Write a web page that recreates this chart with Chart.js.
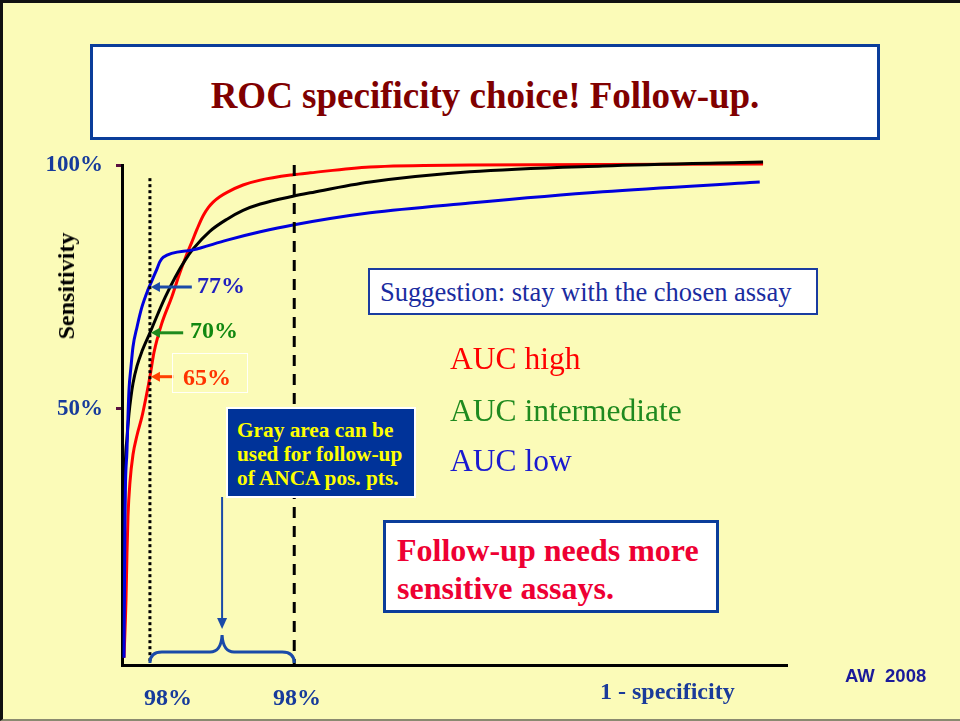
<!DOCTYPE html>
<html>
<head>
<meta charset="utf-8">
<script src="https://cdn.jsdelivr.net/npm/chart.js@4/dist/chart.umd.min.js"></script>
<style>
  body { margin: 0; }
  #slide {
    position: relative; width: 960px; height: 721px; overflow: hidden;
    background: #fbfbb8; box-sizing: border-box;
    border-top: 3px solid #111; border-left: 3px solid #111; border-bottom: 2px solid #8a8a70;
    font-family: "Liberation Serif", "Times New Roman", serif;
  }
  #chart { position: absolute; left: -3px; top: -3px; }
  .box { position: absolute; box-sizing: border-box; }
  .txt { position: absolute; white-space: nowrap; line-height: 1; }
</style>
</head>
<body>
<div id="slide">
  <canvas id="chart" width="960" height="721"></canvas>

  <div class="box" style="left:87px;top:41px;width:790px;height:96px;background:#fff;border:3px solid #0b3d9a;"></div>
  <div class="txt" style="left:87px;width:790px;top:74px;text-align:center;font-size:37px;font-weight:bold;color:#800000;">ROC specificity choice! Follow-up.</div>

  <div class="txt" style="left:63px;top:283px;font-size:24px;font-weight:bold;color:#000;transform:translate(-50%,-50%) rotate(-90deg);">Sensitivity</div>

  <div class="box" style="left:365px;top:265px;width:450px;height:47px;background:#fff;border:2px solid #1a3ca0;"></div>
  <div class="txt" style="left:377px;top:276px;font-size:26.5px;color:#1a2ca0;">Suggestion: stay with the chosen assay</div>

  <div class="txt" style="left:447px;top:340px;font-size:31.5px;color:#ff0000;">AUC high</div>
  <div class="txt" style="left:447px;top:392px;font-size:31.5px;color:#1f8a1f;">AUC intermediate</div>
  <div class="txt" style="left:447px;top:442px;font-size:31.5px;color:#1a1ad0;">AUC low</div>

  <div class="box" style="left:223px;top:404px;width:190px;height:91px;background:#003399;border:2px solid #fff;"></div>
  <div class="txt" style="left:234px;top:415px;font-size:21.3px;font-weight:bold;color:#ffff00;line-height:24px;">Gray area can be<br>used for follow-up<br>of ANCA pos. pts.</div>

  <div class="box" style="left:380px;top:517px;width:336px;height:93px;background:#fff;border:3px solid #0b3d9a;"></div>
  <div class="txt" style="left:394px;top:528px;font-size:32px;font-weight:bold;color:#ee0033;line-height:38px;">Follow-up needs more<br>sensitive assays.</div>

  <div class="box" style="left:169px;top:350px;width:76px;height:40px;border:1px solid rgba(255,255,255,0.9);"></div>
  <div class="txt" style="left:194px;top:270px;font-size:24px;font-weight:bold;color:#1f1fbf;">77%</div>
  <div class="txt" style="left:187px;top:315px;font-size:24px;font-weight:bold;color:#118811;">70%</div>
  <div class="txt" style="left:180px;top:362px;font-size:24px;font-weight:bold;color:#ff3300;">65%</div>

  <div class="txt" style="left:597px;top:676px;font-size:24px;font-weight:bold;color:#1a3b9a;">1 - specificity</div>
  <div class="txt" style="left:842px;top:664px;font-family:'Liberation Sans',Arial,sans-serif;font-size:18.5px;font-weight:bold;color:#1a1a9a;">AW&nbsp;&nbsp;2008</div>
</div>

<script>
// ROC curves, x = 1 - specificity (arbitrary 0..100 scale), y = sensitivity %
const redX   = [0.3, 0.6, 0.75, 0.9, 1.2, 1.65, 2.26, 3.0, 3.6, 4.2, 4.8, 6.0, 7.5, 8.7, 9.6, 10.5, 11.3, 12.2, 13.0, 13.7, 14.7, 15.8, 18.2, 20.8, 25.7, 28.3, 37.3, 52.3, 96.4];
const redY   = [-1.0, 10.9, 20.5, 28.0, 35.0, 40.6, 44.6, 48.4, 52.3, 56.6, 61.5, 67.6, 73.0, 77.9, 81.2, 84.2, 86.9, 89.6, 91.3, 92.4, 93.5, 94.4, 95.9, 96.9, 98.0, 98.4, 99.6, 100, 100.2];
const blackX = [0.15, 0.3, 0.45, 0.75, 1.05, 1.35, 1.65, 2.26, 3.0, 4.2, 5.4, 6.5, 8.0, 9.5, 10.7, 13.2, 15.8, 18.2, 20.8, 25.7, 28.3, 37.3, 52.3, 72.3, 96.4];
const blackY = [-1.0, 15.0, 35.5, 44.0, 49.0, 52.5, 55.2, 58.8, 61.8, 65.6, 69.5, 72.9, 77.0, 80.5, 82.8, 86.4, 88.9, 90.7, 92.0, 93.6, 94.3, 96.5, 98.6, 99.8, 100.6];
const blueX  = [0.3, 0.45, 0.75, 0.9, 1.05, 1.35, 1.65, 2.26, 3.0, 3.9, 4.66, 5.26, 5.7, 6.2, 10.7, 15.8, 20.8, 25.7, 37.3, 52.3, 72.3, 95.9];
const blueY  = [-1.0, 28.7, 41.6, 48.4, 53.9, 58.6, 62.7, 66.8, 70.9, 74.4, 76.8, 78.7, 80.2, 81.1, 82.6, 84.6, 86.3, 87.7, 90.2, 92.2, 94.5, 96.5];

const yTicks = [50, 100];
const xTickPos = [6.9, 26.3];
const xTickLabels = ['98%', '98%'];

const cutLow = 4.2;    // dotted line
const cutHigh = 25.9;  // dashed line

// arrows pointing at the dotted line: sensitivity level, tail x, color
const arrowY = [75.0, 65.6, 56.6];
const arrowTail = [10.5, 9.2, 7.7];
const arrowColors = ['#1a4aa8', '#1e8a1e', '#ff4000'];

function pts(xs, ys) {
    return xs.map((x, i) => ({x: x, y: ys[i]}));
}

function curve(label, xs, ys, color) {
    return {
        label: label,
        data: pts(xs, ys),
        borderColor: color,
        borderWidth: 3,
        pointRadius: 0,
        cubicInterpolationMode: 'monotone',
        clip: false
    };
}

const annotations = {
    id: 'annotations',
    afterDatasetsDraw(chart) {
        const ctx = chart.ctx;
        const xs = chart.scales.x, ys = chart.scales.y;
        ctx.save();
        // small arrows
        arrowY.forEach((v, i) => {
            const y = ys.getPixelForValue(v);
            const tip = xs.getPixelForValue(cutLow) + 1;
            const tail = xs.getPixelForValue(arrowTail[i]);
            ctx.strokeStyle = arrowColors[i];
            ctx.fillStyle = arrowColors[i];
            ctx.lineWidth = 3;
            ctx.beginPath();
            ctx.moveTo(tail, y);
            ctx.lineTo(tip + 6, y);
            ctx.stroke();
            ctx.beginPath();
            ctx.moveTo(tip, y);
            ctx.lineTo(tip + 9, y - 5);
            ctx.lineTo(tip + 9, y + 5);
            ctx.closePath();
            ctx.fill();
        });

        // brace between the two cut-offs
        const x1 = xs.getPixelForValue(cutLow);
        const x2 = xs.getPixelForValue(cutHigh);
        const xm = (x1 + x2) / 2;
        const yb = chart.chartArea.bottom - 2;
        const yh = chart.chartArea.bottom - 13;
        const yp = chart.chartArea.bottom - 30;
        ctx.strokeStyle = '#1a4aa8';
        ctx.lineWidth = 3;
        ctx.beginPath();
        ctx.moveTo(x1, yb);
        ctx.quadraticCurveTo(x1, yh, x1 + 12, yh);
        ctx.lineTo(xm - 12, yh);
        ctx.quadraticCurveTo(xm - 1, yh, xm, yp);
        ctx.quadraticCurveTo(xm + 1, yh, xm + 12, yh);
        ctx.lineTo(x2 - 12, yh);
        ctx.quadraticCurveTo(x2, yh, x2, yb);
        ctx.stroke();

        // arrow from the gray-area box down to the brace
        ctx.fillStyle = '#1a4aa8';
        ctx.lineWidth = 2;
        ctx.beginPath();
        ctx.moveTo(xm, 497);
        ctx.lineTo(xm, yp - 12);
        ctx.stroke();
        ctx.beginPath();
        ctx.moveTo(xm, yp - 6);
        ctx.lineTo(xm - 5, yp - 17);
        ctx.lineTo(xm + 5, yp - 17);
        ctx.closePath();
        ctx.fill();
        ctx.restore();
    }
};

new Chart(document.getElementById('chart'), {
    type: 'line',
    data: {
        datasets: [
            {
                label: 'dotted',
                data: [{x: cutLow, y: 97.3}, {x: cutLow, y: -2.5}],
                borderColor: '#000', borderWidth: 3, borderDash: [3, 3], pointRadius: 0
            },
            {
                label: 'dashed',
                data: [{x: cutHigh, y: 100}, {x: cutHigh, y: -2.5}],
                borderColor: '#000', borderWidth: 3, borderDash: [11, 8], pointRadius: 0
            },
            curve('AUC low', blueX, blueY, '#0000dd'),
            curve('AUC intermediate', blackX, blackY, '#000000'),
            curve('AUC high', redX, redY, '#ff0000')
        ]
    },
    options: {
        responsive: false,
        animation: false,
        layout: { padding: { top: 165, right: 173, left: 0, bottom: 0 } },
        plugins: { legend: { display: false }, tooltip: { enabled: false } },
        scales: {
            x: {
                type: 'linear', min: 0, max: 100,
                afterFit: s => { s.height = 56; },
                afterBuildTicks: s => { s.ticks = xTickPos.map(v => ({value: v})); },
                grid: { display: false },
                border: { color: '#000', width: 3 },
                ticks: {
                    padding: 11,
                    color: '#173b9b',
                    font: { family: 'Liberation Serif', size: 24, weight: 'bold' },
                    callback: (v, i) => xTickLabels[i]
                }
            },
            y: {
                min: -2.5, max: 100,
                afterFit: s => { s.width = 122; },
                afterBuildTicks: s => { s.ticks = yTicks.map(v => ({value: v})); },
                grid: { drawOnChartArea: false, tickLength: 6, tickColor: '#5a1040', tickWidth: 3 },
                border: { color: '#000', width: 3 },
                ticks: {
                    padding: 13,
                    color: '#173b9b',
                    font: { family: 'Liberation Serif', size: 23, weight: 'bold' },
                    callback: v => v + '%'
                }
            }
        }
    },
    plugins: [annotations]
});
</script>
</body>
</html>
